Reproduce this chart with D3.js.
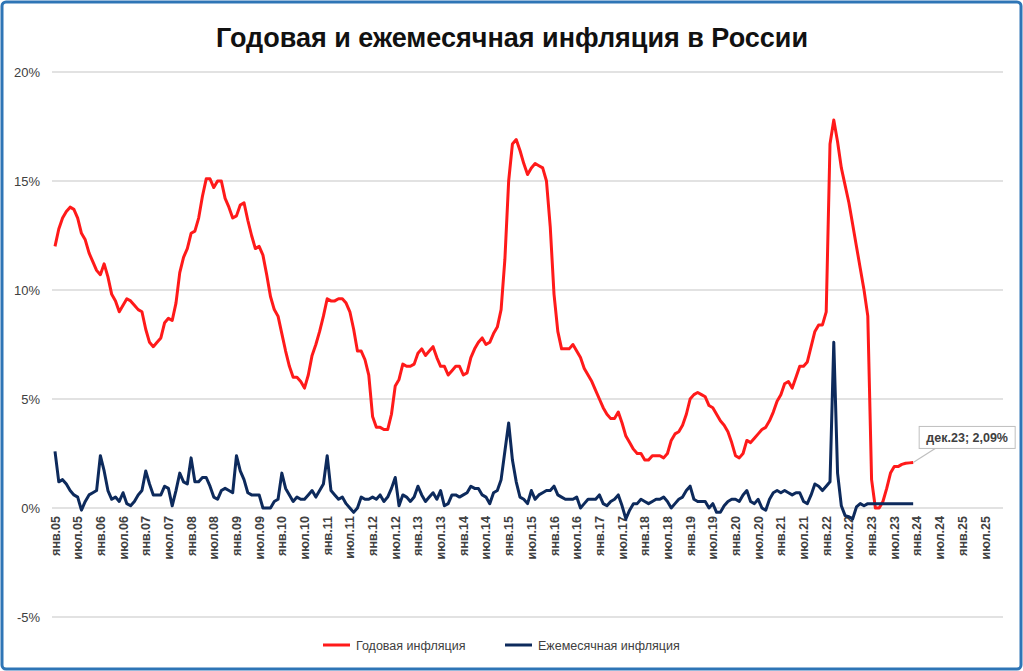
<!DOCTYPE html>
<html><head><meta charset="utf-8">
<script src="https://cdn.jsdelivr.net/npm/d3@7"></script>
<style>body{margin:0;background:#fff;font-family:Arial,"Liberation Sans",sans-serif}</style>
</head><body><svg id="c" width="1023" height="671"></svg>
<script>
const startYear = 2005;
const nMonths = 228; // Jan 2005 .. Dec 2023
const annual = [
12.0,12.8,13.3,13.6,13.8,13.7,13.3,12.6,12.3,11.7,11.3,10.9,
10.7,11.2,10.6,9.8,9.5,9.0,9.3,9.6,9.5,9.3,9.1,9.0,
8.2,7.6,7.4,7.6,7.8,8.5,8.7,8.6,9.4,10.8,11.5,11.9,
12.6,12.7,13.3,14.3,15.1,15.1,14.7,15.0,15.0,14.2,13.8,13.3,
13.4,13.9,14.0,13.2,12.5,11.9,12.0,11.6,10.7,9.7,9.1,8.8,
8.0,7.2,6.5,6.0,6.0,5.8,5.5,6.1,7.0,7.5,8.1,8.8,
9.6,9.5,9.5,9.6,9.6,9.4,9.0,8.2,7.2,7.2,6.8,6.1,
4.2,3.7,3.7,3.6,3.6,4.3,5.6,5.9,6.6,6.5,6.5,6.6,
7.1,7.3,7.0,7.2,7.4,6.9,6.5,6.5,6.1,6.3,6.5,6.5,
6.1,6.2,6.9,7.3,7.6,7.8,7.5,7.6,8.0,8.3,9.1,11.4,
15.0,16.7,16.9,16.4,15.8,15.3,15.6,15.8,15.7,15.6,15.0,12.9,
9.8,8.1,7.3,7.3,7.3,7.5,7.2,6.9,6.4,6.1,5.8,5.4,
5.0,4.6,4.3,4.1,4.1,4.4,3.9,3.3,3.0,2.7,2.5,2.5,
2.2,2.2,2.4,2.4,2.4,2.3,2.5,3.1,3.4,3.5,3.8,4.3,
5.0,5.2,5.3,5.2,5.1,4.7,4.6,4.3,4.0,3.8,3.5,3.0,
2.4,2.3,2.5,3.1,3.0,3.2,3.4,3.6,3.7,4.0,4.4,4.9,
5.2,5.7,5.8,5.5,6.0,6.5,6.5,6.7,7.4,8.1,8.4,8.4,
9.0,16.7,17.8,16.8,15.6,14.8,14.0,13.0,12.0,11.0,10.0,8.8,
1.3,0.0,0.0,0.3,0.9,1.6,1.9,1.9,2.0,2.05,2.07,2.09];
const monthly = [
2.6,1.2,1.3,1.1,0.8,0.6,0.5,-0.1,0.3,0.6,0.7,0.8,
2.4,1.7,0.8,0.4,0.5,0.3,0.7,0.2,0.1,0.3,0.6,0.8,
1.7,1.1,0.6,0.6,0.6,1.0,0.9,0.1,0.8,1.6,1.2,1.1,
2.3,1.2,1.2,1.4,1.4,1.0,0.5,0.4,0.8,0.9,0.8,0.7,
2.4,1.7,1.3,0.7,0.6,0.6,0.6,0.0,0.0,0.0,0.3,0.4,
1.6,0.9,0.6,0.3,0.5,0.4,0.4,0.6,0.8,0.5,0.8,1.1,
2.4,0.8,0.6,0.4,0.5,0.2,0.0,-0.2,0.0,0.5,0.4,0.4,
0.5,0.4,0.6,0.3,0.5,0.9,1.4,0.1,0.6,0.5,0.3,0.5,
1.0,0.6,0.3,0.5,0.7,0.4,0.8,0.1,0.2,0.6,0.6,0.5,
0.6,0.7,1.0,0.9,0.9,0.6,0.5,0.2,0.7,0.8,1.3,2.6,
3.9,2.2,1.2,0.5,0.4,0.2,0.8,0.4,0.6,0.7,0.8,0.8,
1.0,0.6,0.5,0.4,0.4,0.4,0.5,0.0,0.2,0.4,0.4,0.4,
0.6,0.2,0.1,0.3,0.4,0.6,0.1,-0.5,-0.1,0.2,0.2,0.4,
0.3,0.2,0.3,0.4,0.4,0.5,0.3,0.0,0.2,0.4,0.5,0.8,
1.0,0.4,0.3,0.3,0.3,0.0,0.2,-0.2,-0.2,0.1,0.3,0.4,
0.4,0.3,0.6,0.8,0.3,0.2,0.4,0.0,-0.1,0.4,0.7,0.8,
0.7,0.8,0.7,0.6,0.7,0.7,0.3,0.2,0.6,1.1,1.0,0.8,
1.0,1.2,7.6,1.6,0.1,-0.35,-0.4,-0.5,0.05,0.2,0.1,0.2,
0.2,0.2,0.2,0.2,0.2,0.2,0.2,0.2,0.2,0.2,0.2,0.2];
const yTicks = [-5,0,5,10,15,20];
const monthNames = ["янв","июл"];
const nCats = 247; // axis categories through Jul 2025
const seriesNames = ["Годовая инфляция","Ежемесячная инфляция"];
const colors = ["#ff1a1a","#0d2a5c"];

const svg = d3.select("#c");
svg.append("rect").attr("x",2).attr("y",2).attr("width",1019).attr("height",667)
  .attr("rx",4).attr("fill","#fff").attr("stroke","#2e75b6").attr("stroke-width",3);
svg.append("text").attr("x",512).attr("y",47).attr("text-anchor","middle")
  .attr("font-size",27).attr("font-weight","bold").attr("fill","#111")
  .text("Годовая и ежемесячная инфляция в России");

const x = d3.scaleLinear().domain([0,nCats-1]).range([55,985]);
const y = d3.scaleLinear().domain([-5,20]).range([617,72]);

const g = svg.append("g");
yTicks.forEach(t=>{
  g.append("line").attr("x1",52).attr("x2",1003).attr("y1",y(t)).attr("y2",y(t))
   .attr("stroke","#d9d9d9").attr("stroke-width",1.3);
  g.append("text").attr("x",40).attr("y",y(t)+5).attr("text-anchor","end")
   .attr("font-size",13).attr("fill","#404040").text(t+"%");
});
for(let i=0;i<nCats;i+=6){
  const yr = startYear + Math.floor(i/12);
  const lab = monthNames[(i%12)/6] + "." + String(yr%100).padStart(2,"0");
  g.append("text").attr("transform",`translate(${x(i)+4.5},${y(0)+8}) rotate(-90)`)
   .attr("text-anchor","end").attr("font-size",12.5).attr("font-weight","bold")
   .attr("fill","#404040").text(lab);
}
const line = d3.line().x((d,i)=>x(i)).y(d=>y(d)).curve(d3.curveLinear);
g.append("path").datum(annual).attr("d",line).attr("fill","none")
  .attr("stroke",colors[0]).attr("stroke-width",3).attr("stroke-linejoin","round");
g.append("path").datum(monthly).attr("d",line).attr("fill","none")
  .attr("stroke",colors[1]).attr("stroke-width",3).attr("stroke-linejoin","round");

// annotation
const li = nMonths-1, lx = x(li), ly = y(annual[li]);
g.append("line").attr("x1",lx).attr("y1",ly).attr("x2",lx+22).attr("y2",ly-14)
  .attr("stroke","#bfbfbf").attr("stroke-width",1.2);
g.append("rect").attr("x",lx+6).attr("y",ly-36).attr("width",96).attr("height",22)
  .attr("fill","#fff").attr("stroke","#bfbfbf");
g.append("text").attr("x",lx+54).attr("y",ly-20).attr("text-anchor","middle")
  .attr("font-size",12.5).attr("font-weight","bold").attr("fill","#404040")
  .text("дек.23; "+annual[li].toFixed(2).replace(".",",")+"%");

// legend
const lg = [[323,seriesNames[0],colors[0]],[505,seriesNames[1],colors[1]]];
lg.forEach(([lx0,name,c])=>{
  svg.append("line").attr("x1",lx0).attr("x2",lx0+27).attr("y1",645).attr("y2",645)
    .attr("stroke",c).attr("stroke-width",3);
  svg.append("text").attr("x",lx0+33).attr("y",649.5).attr("font-size",12.5)
    .attr("fill","#404040").text(name);
});
</script></body></html>
